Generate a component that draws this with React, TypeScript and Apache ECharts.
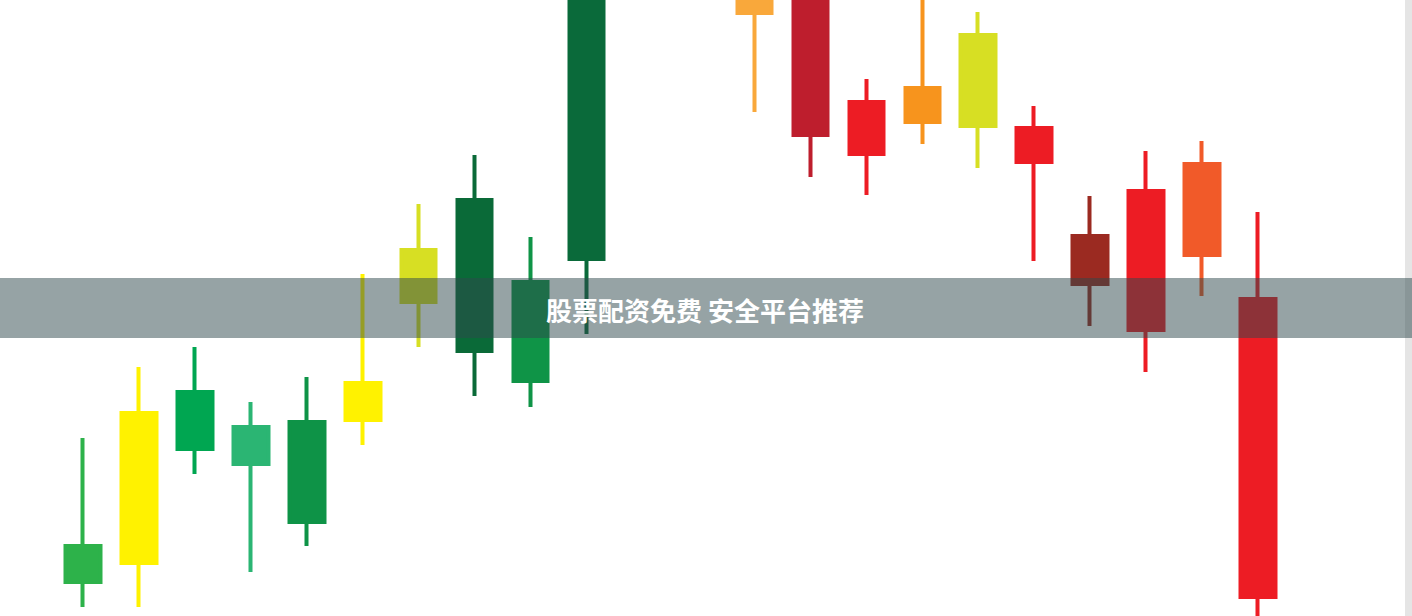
import { useEffect, useRef } from 'react';
import * as echarts from 'echarts';

// Trading sessions (two candles near the peak run off the top of the picture)
const days = [
  'D01', 'D02', 'D03', 'D04', 'D05', 'D06', 'D07', 'D08', 'D09', 'D10', 'D11',
  'D12', 'D13', 'D14', 'D15', 'D16', 'D17', 'D18', 'D19', 'D20', 'D21', 'D22',
];

// [open, close, low, high]
const ohlc: number[][] = [
  [34, 70, 9, 178],
  [53, 203, 9, 249],
  [167, 224, 142, 269],
  [152, 189, 44, 214],
  [94, 194, 70, 239],
  [196, 233, 171, 342],
  [314, 366, 269, 412],
  [265, 416, 220, 461],
  [235, 334, 209, 379],
  [357, 650, 282, 690],
  [650, 730, 625, 770],
  [735, 690, 640, 780],
  [660, 603, 504, 690],
  [640, 481, 439, 660],
  [514, 462, 421, 537],
  [494, 528, 472, 630],
  [490, 581, 448, 604],
  [488, 454, 355, 510],
  [380, 332, 290, 420],
  [425, 286, 244, 465],
  [361, 452, 320, 475],
  [317, 19, -10, 404],
];

const candleColors = [
  '#2db24a', '#fff200', '#00a651', '#2bb573', '#0e9347', '#fff200',
  '#d7df23', '#0a6a38', '#0f9447', '#0a6a3a', '#0a6a3a', '#f7941d',
  '#f9a83b', '#be1e2d', '#ed1c24', '#f7941d', '#d7df23', '#ed1c24',
  '#9b2a21', '#ed1c24', '#f15a29', '#ed1c24',
];

const bannerText = '股票配资免费 安全平台推荐';

export default function App() {
  const chartRef = useRef<HTMLDivElement>(null);

  useEffect(() => {
    document.body.style.margin = '0';
    if (!chartRef.current) return;
    const chart = echarts.init(chartRef.current, null, { renderer: 'svg' });

    const seriesData = ohlc.map((v, i) => {
      const c = candleColors[i];
      return {
        value: v,
        itemStyle: { color: c, color0: c, borderColor: c, borderColor0: c, borderColorDoji: c },
      };
    });

    chart.setOption({
      animation: false,
      backgroundColor: '#ffffff',
      grid: { left: 55, right: 126, top: 0, bottom: 0 },
      xAxis: {
        type: 'category',
        data: days,
        boundaryGap: true,
        show: false,
      },
      yAxis: {
        type: 'value',
        min: 0,
        max: 616,
        show: false,
      },
      series: [
        {
          type: 'candlestick',
          barWidth: 35,
          itemStyle: { borderWidth: 4 },
          data: seriesData,
        },
      ],
      graphic: [
        {
          type: 'rect',
          left: 1405,
          top: 0,
          shape: { width: 7, height: 616 },
          style: { fill: '#e5e5e5' },
          z: 10,
        },
        {
          type: 'rect',
          left: 0,
          top: 278,
          shape: { width: 1412, height: 60 },
          style: { fill: 'rgba(45, 72, 76, 0.5)' },
          z: 20,
        },
        {
          type: 'text',
          x: 705,
          y: 309,
          style: {
            text: bannerText,
            fill: '#ffffff',
            font: 'bold 26px "Noto Sans CJK SC", sans-serif',
            textAlign: 'center',
            textVerticalAlign: 'middle',
          },
          z: 30,
        },
      ],
    });

    return () => {
      chart.dispose();
    };
  }, []);

  return <div ref={chartRef} style={{ width: 1412, height: 616 }} />;
}
